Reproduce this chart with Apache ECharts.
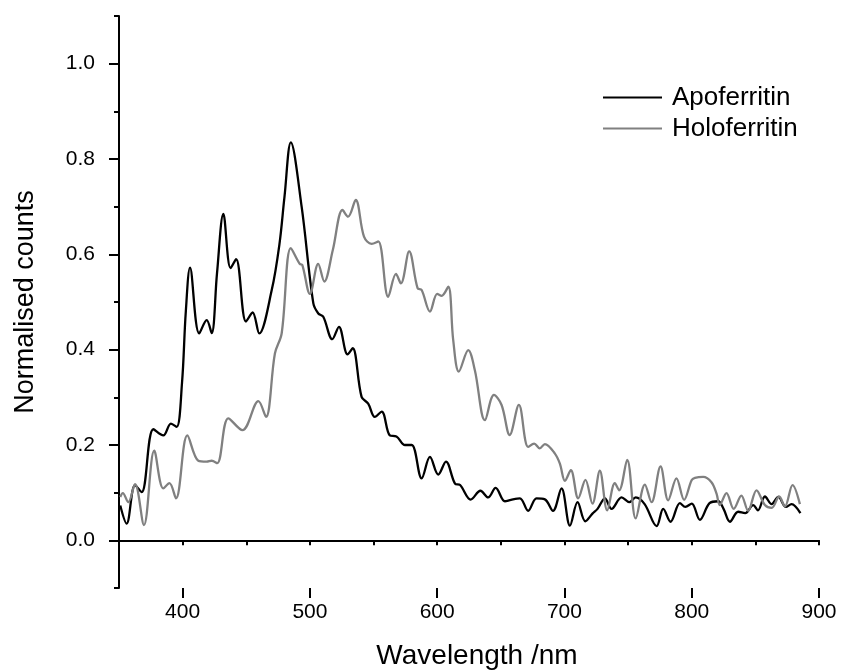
<!DOCTYPE html>
<html>
<head>
<meta charset="utf-8">
<script src="https://cdn.jsdelivr.net/npm/echarts@6/dist/echarts.min.js"></script>
<style>
html,body{margin:0;padding:0;background:#fff;}
#chart{width:841px;height:671px;}
</style>
</head>
<body>
<div id="chart"></div>
<script>
// ---- Data ----
const apoWavelength = [351,356,362.6,367.8,377,384.8,390.8,395.3,399.5,402.5,405.8,413,418.9,422.8,427,432,437.7,442,449.8,455,460.2,470,476,480,485,493.5,502.7,506.6,510.5,517.6,522.8,529.6,533.6,540.6,545.8,551,556.4,562.8,568,574.7,580,587.8,594.3,600.8,606.9,614,618,626.3,634,640,645.9,653.2,658,665,671.5,678,684.6,691,697.7,704.3,710.3,716.4,722,726,731.8,737,744.9,751,756,763,772.4,777.6,783.4,790.7,795,800,806.4,814,820.8,825,830,836.5,842,848.3,852,857.5,862.8,868,874,878.4,885.4];
const apoCounts = [0.073,0.035,0.116,0.101,0.233,0.22,0.245,0.238,0.33,0.48,0.572,0.434,0.462,0.435,0.56,0.685,0.571,0.59,0.459,0.478,0.434,0.525,0.62,0.72,0.835,0.70,0.497,0.476,0.469,0.422,0.448,0.39,0.403,0.301,0.287,0.259,0.27,0.22,0.218,0.2,0.2,0.13,0.175,0.138,0.165,0.119,0.116,0.0855,0.104,0.09,0.11,0.082,0.085,0.088,0.062,0.088,0.086,0.062,0.109,0.031,0.08,0.04,0.056,0.066,0.088,0.066,0.09,0.08,0.09,0.076,0.03,0.066,0.039,0.078,0.07,0.077,0.043,0.078,0.082,0.066,0.039,0.06,0.057,0.074,0.063,0.092,0.076,0.091,0.07,0.076,0.057];

const holoWavelength = [351,353,357.3,362.6,369.6,377.7,384.8,389.6,394.8,403.7,412.3,418.9,422.8,427.2,435.9,447,459.5,465.5,472.5,477.8,485,492,494,500,506.5,511.3,518,525.6,530,536,542.5,548.5,553.7,561.5,567.6,571.5,578,584.6,587.8,594.3,600,603.5,608.7,612.6,617,624.4,629.6,637.5,644.6,650.6,657,664.2,671.5,676.2,680.6,684.6,692.5,696.4,700.4,705,710.8,716.5,722,727.8,733.6,739.6,743,749.3,756,763.2,768.4,775.5,781.5,788,794,799.9,802.5,809,815.5,819.5,822,827.3,833,839,844.3,850.9,857.5,862.8,868.7,873.2,879.2,885];
const holoCounts = [0.091,0.099,0.08,0.118,0.032,0.188,0.109,0.12,0.088,0.22,0.167,0.165,0.167,0.162,0.256,0.231,0.292,0.259,0.392,0.434,0.613,0.58,0.578,0.517,0.58,0.543,0.609,0.693,0.679,0.714,0.637,0.622,0.627,0.511,0.559,0.539,0.606,0.529,0.525,0.48,0.517,0.513,0.532,0.42,0.354,0.399,0.357,0.252,0.305,0.284,0.221,0.284,0.196,0.203,0.193,0.202,0.182,0.161,0.125,0.147,0.088,0.127,0.077,0.146,0.063,0.12,0.105,0.169,0.046,0.117,0.08,0.155,0.084,0.13,0.085,0.126,0.131,0.133,0.122,0.098,0.074,0.099,0.066,0.094,0.062,0.105,0.074,0.068,0.092,0.071,0.116,0.076];

const xTickPositions = ['350','400','450','500','550','600','650','700','750','800','850','900'];
const xMajorLabels = ['400','500','600','700','800','900'];
const yTickPositions = ['-0.1','0.0','0.1','0.2','0.3','0.4','0.5','0.6','0.7','0.8','0.9','1.0','1.1'];
const yMajorLabels = ['0.0','0.2','0.4','0.6','0.8','1.0'];

const seriesNames = ['Apoferritin','Holoferritin'];
const seriesColors = ['#000000','#808080'];

// ---- Chart ----
const font = 'Liberation Sans, Arial, Helvetica, sans-serif';
const zip = (xs, ys) => xs.map((x, i) => [x, ys[i]]);

const chart = echarts.init(document.getElementById('chart'), null, {renderer: 'canvas'});
const axisLine = {show: true, lineStyle: {color: '#000', width: 2}};

chart.setOption({
  animation: false,
  backgroundColor: '#fff',
  grid: {left: 119, right: 22, top: 16, bottom: 83, containLabel: false, outerBoundsMode: 'none'},
  legend: {
    orient: 'vertical', left: 598, top: 79,
    icon: 'rect', itemWidth: 59, itemHeight: 2, itemGap: 4,
    data: seriesNames,
    textStyle: {fontFamily: font, fontSize: 26, color: '#000', lineHeight: 27, padding: [0, 0, 0, 5]}
  },
  xAxis: [
    {
      type: 'value', min: 350, max: 900, interval: 50,
      axisLine: axisLine,
      axisTick: {show: true, length: 5, lineStyle: {color: '#000', width: 2}},
      axisLabel: {show: false}, splitLine: {show: false}
    },
    {
      type: 'category', data: xTickPositions, boundaryGap: false, position: 'bottom',
      axisLine: {show: false},
      axisTick: {show: true, length: 10, lineStyle: {color: '#000', width: 2},
        interval: (i, v) => xMajorLabels.indexOf(v) >= 0},
      axisLabel: {show: true, interval: (i, v) => xMajorLabels.indexOf(v) >= 0,
        fontFamily: font, fontSize: 21, color: '#000', margin: 14},
      splitLine: {show: false},
      name: 'Wavelength /nm', nameLocation: 'middle', nameGap: 54,
      nameTextStyle: {fontFamily: font, fontSize: 28, color: '#000', padding: [0, 0, 0, 16]}
    }
  ],
  yAxis: [
    {
      type: 'value', min: -0.1, max: 1.1, interval: 0.1,
      axisLine: axisLine,
      axisTick: {show: true, length: 5, lineStyle: {color: '#000', width: 2}},
      axisLabel: {show: false}, splitLine: {show: false}
    },
    {
      type: 'category', data: yTickPositions, boundaryGap: false, position: 'left',
      axisLine: {show: false},
      axisTick: {show: true, length: 10, lineStyle: {color: '#000', width: 2},
        interval: (i, v) => yMajorLabels.indexOf(v) >= 0},
      axisLabel: {show: true, interval: (i, v) => yMajorLabels.indexOf(v) >= 0,
        fontFamily: font, fontSize: 21, color: '#000', margin: 24},
      splitLine: {show: false},
      name: 'Normalised counts', nameLocation: 'middle', nameGap: 80, nameRotate: 90,
      nameTextStyle: {fontFamily: font, fontSize: 27, color: '#000'}
    }
  ],
  series: [
    {
      name: seriesNames[0], type: 'line', xAxisIndex: 0, yAxisIndex: 0,
      data: zip(apoWavelength, apoCounts), smooth: 0.35, symbol: 'none',
      lineStyle: {color: seriesColors[0], width: 2.3}, itemStyle: {color: seriesColors[0]}
    },
    {
      name: seriesNames[1], type: 'line', xAxisIndex: 0, yAxisIndex: 0,
      data: zip(holoWavelength, holoCounts), smooth: 0.35, symbol: 'none',
      lineStyle: {color: seriesColors[1], width: 2.3}, itemStyle: {color: seriesColors[1]}
    }
  ]
});
</script>
</body>
</html>
